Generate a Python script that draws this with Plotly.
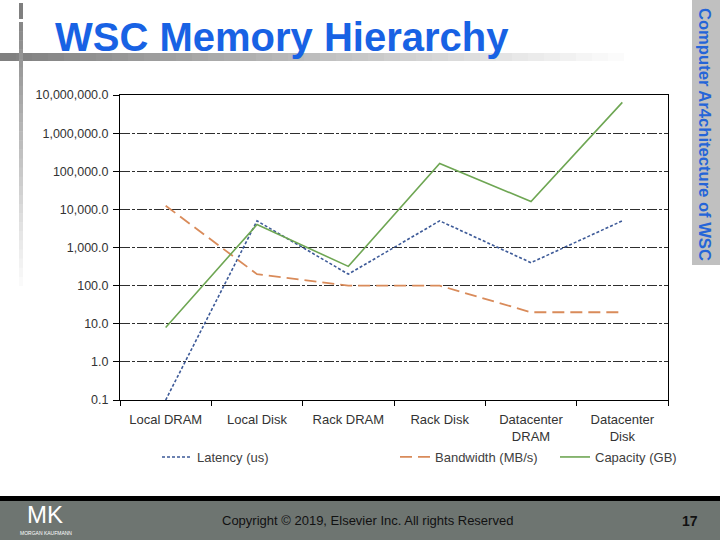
import plotly.graph_objects as go

# ---- data ----
categories = ["Local DRAM", "Local Disk", "Rack DRAM", "Rack Disk", "Datacenter<br>DRAM", "Datacenter<br>Disk"]
latency_us = [0.1, 5000, 200, 5000, 400, 5000]
bandwidth_mbs = [12500, 200, 100, 100, 20, 20]
capacity_gb = [8, 4000, 320, 160000, 16000, 6400000]
y_tickvals = [0.1, 1, 10, 100, 1000, 10000, 100000, 1000000, 10000000]
y_ticktext = ["0.1", "1.0", "10.0", "100.0", "1,000.0", "10,000.0", "100,000.0", "1,000,000.0", "10,000,000.0"]

# ---- layout geometry (pixels) ----
W, H = 720, 540
ML, MR, MT, MB = 120, 52, 95, 140
PW, PH = W - ML - MR, H - MT - MB


def px_x(p):
    return (p - ML) / PW


def px_y(p):
    return (H - MB - p) / PH


fig = go.Figure()
fig.add_trace(go.Scatter(x=categories, y=latency_us, mode="lines", name="Latency (us)",
                         line=dict(color="#3d5a98", width=1.6, dash="3px,2px"), legend="legend"))
fig.add_trace(go.Scatter(x=categories, y=bandwidth_mbs, mode="lines", name="Bandwidth (MB/s)",
                         line=dict(color="#d98b5a", width=1.8, dash="12px,6px"), legend="legend2"))
fig.add_trace(go.Scatter(x=categories, y=capacity_gb, mode="lines", name="Capacity (GB)",
                         line=dict(color="#6ea653", width=1.6), legend="legend3"))

font_main = "Arial, Liberation Sans, sans-serif"
leg_common = dict(orientation="h", yanchor="middle", xanchor="left", y=px_y(457),
                  font=dict(family=font_main, size=13, color="#404040"), bgcolor="rgba(0,0,0,0)")

fig.update_layout(
    width=W, height=H,
    margin=dict(l=ML, r=MR, t=MT, b=MB),
    paper_bgcolor="white", plot_bgcolor="white",
    font=dict(family=font_main, color="#333"),
    showlegend=True,
    legend=dict(x=px_x(157), **leg_common),
    legend2=dict(x=px_x(395), **leg_common),
    legend3=dict(x=px_x(555), **leg_common),
    xaxis=dict(type="category", range=[-0.5, 5.5], tickson="boundaries", ticks="outside", ticklen=5,
               tickcolor="black", showline=True, linecolor="black", linewidth=1, mirror=True,
               showgrid=False, tickfont=dict(size=13, color="#333"), ticklabelstandoff=7,
               fixedrange=True),
    yaxis=dict(type="log", range=[-1, 7], tickvals=y_tickvals, ticktext=y_ticktext,
               ticks="outside", ticklen=6, tickcolor="black", showline=True, linecolor="black",
               linewidth=1, mirror=True, showgrid=True, gridcolor="#2e2e2e", gridwidth=1.3,
               griddash="10px,2px,3px,2px", tickfont=dict(size=12.5, color="#333"),
               ticklabelstandoff=2, zeroline=False, fixedrange=True),
)

shapes = []
# horizontal gradient bar under title
n = 40
x0, x1 = 0, 640
for i in range(n):
    t = i / (n - 1)
    c = int(0x80 + (0xff - 0x80) * t)
    shapes.append(dict(type="rect", xref="paper", yref="paper",
                       x0=px_x(x0 + (x1 - x0) * i / n), x1=px_x(x0 + (x1 - x0) * (i + 1) / n + 0.5),
                       y0=px_y(61), y1=px_y(53), line=dict(width=0),
                       fillcolor=f"rgb({c},{c},{c})", layer="below"))
# vertical bar top piece
shapes.append(dict(type="rect", xref="paper", yref="paper", x0=px_x(19), x1=px_x(23),
                   y0=px_y(19), y1=px_y(3), line=dict(width=0), fillcolor="#7f7f7f", layer="below"))
# vertical gradient bar
n = 30
y0v, y1v = 22, 295
for i in range(n):
    t = i / (n - 1)
    c = int(0x88 + (0xff - 0x88) * t)
    shapes.append(dict(type="rect", xref="paper", yref="paper", x0=px_x(19), x1=px_x(23),
                       y0=px_y(y0v + (y1v - y0v) * (i + 1) / n + 0.5), y1=px_y(y0v + (y1v - y0v) * i / n),
                       line=dict(width=0), fillcolor=f"rgb({c},{c},{c})", layer="below"))
# right gray box
shapes.append(dict(type="rect", xref="paper", yref="paper", x0=px_x(692), x1=px_x(720),
                   y0=px_y(265), y1=px_y(0), line=dict(width=0), fillcolor="#c0c0c0", layer="below"))
# bottom bars
shapes.append(dict(type="rect", xref="paper", yref="paper", x0=px_x(0), x1=px_x(720),
                   y0=px_y(501), y1=px_y(496), line=dict(width=0), fillcolor="#000000", layer="below"))
shapes.append(dict(type="rect", xref="paper", yref="paper", x0=px_x(0), x1=px_x(720),
                   y0=px_y(540), y1=px_y(501), line=dict(width=0), fillcolor="#6e7571", layer="below"))
fig.update_layout(shapes=shapes)

narrow = "Liberation Sans Narrow, Arial Narrow, Liberation Sans, Arial"
ann = []
ann.append(dict(text="<b>WSC Memory Hierarchy</b>", xref="paper", yref="paper", x=px_x(53), y=px_y(37),
                xanchor="left", yanchor="middle", showarrow=False,
                font=dict(family=font_main, size=40, color="#1862e4")))
ann.append(dict(text="<b>Computer Ar4chitecture of WSC</b>", xref="paper", yref="paper", x=px_x(705),
                y=px_y(135), xanchor="center", yanchor="middle", textangle=90, showarrow=False,
                font=dict(family=font_main, size=16.6, color="#2565d8")))
ann.append(dict(text="Copyright © 2019, Elsevier Inc. All rights Reserved", xref="paper", yref="paper",
                x=px_x(367), y=px_y(520), xanchor="center", yanchor="middle", showarrow=False,
                font=dict(family=narrow, size=13, color="#111")))
ann.append(dict(text="<b>17</b>", xref="paper", yref="paper", x=px_x(690), y=px_y(521),
                xanchor="center", yanchor="middle", showarrow=False,
                font=dict(family=narrow, size=14, color="#111")))
ann.append(dict(text="MK", xref="paper", yref="paper", x=px_x(45), y=px_y(514),
                xanchor="center", yanchor="middle", showarrow=False,
                font=dict(family=font_main, size=24, color="white")))
ann.append(dict(text="MORGAN KAUFMANN", xref="paper", yref="paper", x=px_x(46), y=px_y(533),
                xanchor="center", yanchor="middle", showarrow=False,
                font=dict(family=font_main, size=5, color="white")))
fig.update_layout(annotations=ann)

fig.write_html("out.html", config={"displayModeBar": False},
               post_script="document.body.style.margin='0';")
